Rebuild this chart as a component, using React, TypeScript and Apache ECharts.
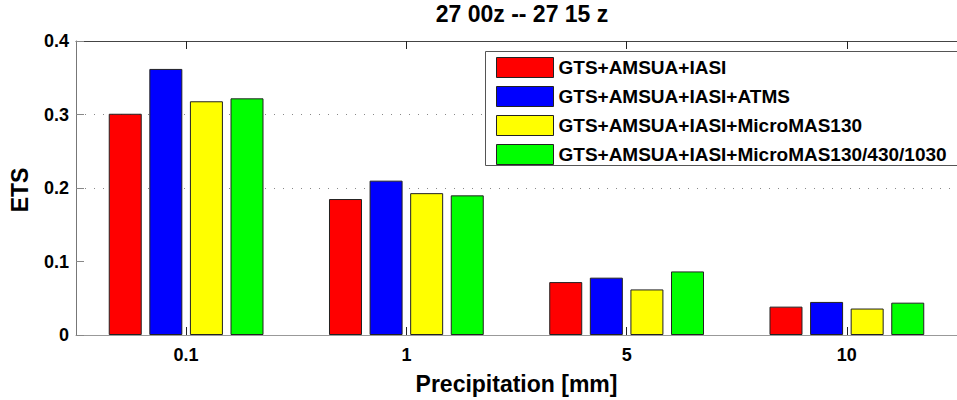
import React, { useEffect, useRef } from "react";
import * as echarts from "echarts";

const categories = ["0.1", "1", "5", "10"];
const seriesNames = [
  "GTS+AMSUA+IASI",
  "GTS+AMSUA+IASI+ATMS",
  "GTS+AMSUA+IASI+MicroMAS130",
  "GTS+AMSUA+IASI+MicroMAS130/430/1030",
];
const redValues = [0.301, 0.185, 0.072, 0.0386];
const blueValues = [0.362, 0.21, 0.078, 0.045];
const yellowValues = [0.318, 0.193, 0.062, 0.036];
const greenValues = [0.322, 0.19, 0.0865, 0.044];
const seriesColors = ["#ff0000", "#0000ff", "#ffff00", "#00ff00"];
const yTicks = [0, 0.1, 0.2, 0.3, 0.4];
const titleText = "27 00z -- 27 15 z";
const yName = "ETS";
const xName = "Precipitation [mm]";

const FONT = "Liberation Sans";

export default function App() {
  const ref = useRef<HTMLDivElement>(null);
  useEffect(() => {
    document.body.style.margin = "0";
    document.body.style.overflow = "hidden";
    if (!ref.current) return;
    const chart = echarts.init(ref.current, undefined, { renderer: "svg" });
    const values = [redValues, blueValues, yellowValues, greenValues];
    chart.setOption({
      animation: false,
      backgroundColor: "#ffffff",
      graphic: [
        {
          type: "text",
          x: 522,
          y: 2,
          style: {
            text: titleText,
            fontFamily: FONT,
            fontSize: 23,
            fontWeight: "bold",
            fill: "#000",
            align: "center",
            verticalAlign: "top",
          },
        },
        {
          type: "text",
          x: 20,
          y: 190,
          rotation: Math.PI / 2,
          style: {
            text: yName,
            fontFamily: FONT,
            fontSize: 23,
            fontWeight: "bold",
            fill: "#000",
            align: "center",
            verticalAlign: "middle",
          },
        },
        {
          type: "rect",
          z: 3,
          shape: { x: 485, y: 51, width: 520, height: 114 },
          style: { fill: "#ffffff" },
        },
        {
          type: "polyline",
          z: 3,
          shape: { points: [[1010, 51.5], [485.5, 51.5], [485.5, 165.5], [1010, 165.5]] },
          style: { fill: null, stroke: "#555", lineWidth: 1 },
        },
      ],
      legend: {
        orient: "vertical",
        left: 485,
        top: 51,
        itemWidth: 57,
        itemHeight: 20,
        itemGap: 8,
        padding: [6, 0, 3, 11],
        borderWidth: 0,
        borderColor: "rgba(0,0,0,0)",
        backgroundColor: "rgba(0,0,0,0)",
        icon: "rect",
        itemStyle: { borderColor: "#222", borderWidth: 1 },
        textStyle: { fontFamily: FONT, fontSize: 19, fontWeight: "bold", color: "#000" },
        data: seriesNames,
      },
      grid: { left: 76, top: 41, width: 892, bottom: 64 },
      xAxis: [
        {
          type: "category",
          data: categories,
          position: "bottom",
          axisLine: { show: true, lineStyle: { color: "#999", width: 1 } },
          axisTick: { show: true, inside: true, alignWithLabel: true, length: 8, lineStyle: { color: "#222" } },
          axisLabel: { margin: 11, fontFamily: FONT, fontSize: 18, fontWeight: "bold", color: "#000" },
          name: xName,
          nameLocation: "middle",
          nameGap: 37,
          nameTextStyle: { fontFamily: FONT, fontSize: 23, fontWeight: "bold", color: "#000" },
          splitLine: { show: false },
        },
        {
          type: "category",
          data: categories,
          position: "top",
          axisLine: { show: true, lineStyle: { color: "#444", width: 1 } },
          axisTick: { show: true, inside: true, alignWithLabel: true, length: 8, lineStyle: { color: "#222" } },
          axisLabel: { show: false },
          splitLine: { show: false },
        },
      ],
      yAxis: {
        type: "value",
        min: yTicks[0],
        max: yTicks[yTicks.length - 1],
        interval: 0.1,
        axisLine: { show: true, lineStyle: { color: "#777", width: 1 } },
        axisTick: { show: true, inside: true, length: 8, lineStyle: { color: "#888" } },
        axisLabel: { margin: 7, fontFamily: FONT, fontSize: 18, fontWeight: "bold", color: "#000" },
        splitLine: {
          show: true,
          lineStyle: {
            color: ["rgba(0,0,0,0)", "rgba(0,0,0,0)", "#888", "#888", "rgba(0,0,0,0)"],
            type: [1, 8],
            width: 1,
          },
        },
      },
      series: seriesNames.map((name, i) => ({
        name,
        type: "bar",
        xAxisIndex: 0,
        data: values[i],
        barWidth: 33,
        barGap: "23%",
        itemStyle: { color: seriesColors[i], borderColor: "#222", borderWidth: 1 },
      })),
    });
    return () => chart.dispose();
  }, []);
  return <div ref={ref} style={{ width: 957, height: 400 }} />;
}
